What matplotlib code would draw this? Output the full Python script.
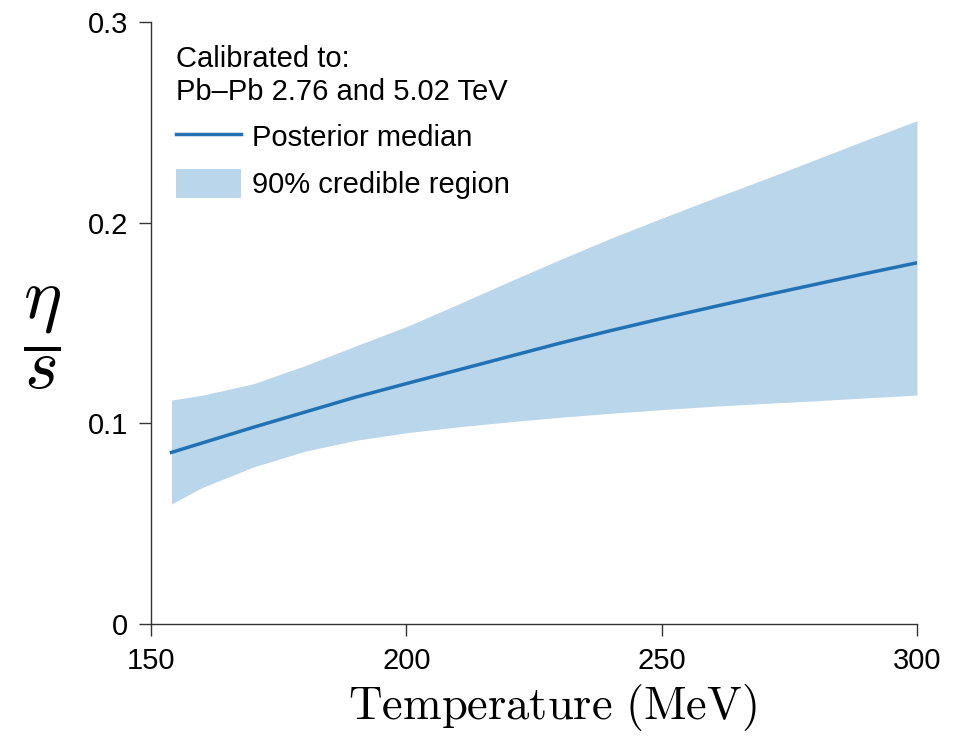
import matplotlib
matplotlib.use("Agg")
import matplotlib.pyplot as plt
from matplotlib.ticker import FixedLocator, FixedFormatter

temperature = [154, 160, 170, 180, 190, 200, 210, 220, 230, 240, 250, 260, 270, 280, 290, 300]
median = [0.0855, 0.0902, 0.0980, 0.1055, 0.1130, 0.1198, 0.1265, 0.1332, 0.1399, 0.1462,
          0.1522, 0.1580, 0.1637, 0.1692, 0.1747, 0.1800]
upper = [0.1116, 0.1140, 0.1197, 0.1286, 0.1385, 0.1482, 0.1592, 0.1705, 0.1815, 0.1922,
         0.2022, 0.2120, 0.2215, 0.2313, 0.2412, 0.2508]
lower = [0.0598, 0.0680, 0.0782, 0.0860, 0.0915, 0.0953, 0.0982, 0.1007, 0.1030, 0.1050,
         0.1068, 0.1085, 0.1099, 0.1112, 0.1127, 0.1141]

xticks = [150, 200, 250, 300]
yticks = [0, 0.1, 0.2, 0.3]
ytick_labels = ["0", "0.1", "0.2", "0.3"]

plt.rcParams['font.family'] = ['Liberation Sans', 'DejaVu Sans']
plt.rcParams['mathtext.fontset'] = 'cm'

fig = plt.figure(figsize=(9.69, 7.36), dpi=100)
ax = fig.add_axes([151/969, 1 - 624/736, (917-151)/969, (624-22)/736])

band_color = '#bad6eb'
line_color = '#2171b5'

ax.fill_between(temperature, lower, upper, color=band_color, lw=0, label='90% credible region')
ax.plot(temperature, median, color=line_color, lw=2.5, label='Posterior median')

ax.set_xlim(150, 300)
ax.set_ylim(0, 0.3)
ax.xaxis.set_major_locator(FixedLocator(xticks))
ax.yaxis.set_major_locator(FixedLocator(yticks))
ax.yaxis.set_major_formatter(FixedFormatter(ytick_labels))

for s in ['top', 'right']:
    ax.spines[s].set_visible(False)
for s in ['left', 'bottom']:
    ax.spines[s].set_color('#333333')
    ax.spines[s].set_linewidth(1.0)

ax.tick_params(direction='out', length=8.5, width=1.0, color='#333333',
               labelsize=21, pad=8)

ax.set_xlabel(r'$\mathrm{Temperature\ (MeV)}$', fontsize=33.5)
ax.xaxis.set_label_coords(0.524, -0.097)
ax.xaxis.label.set_va('top')
ax.set_ylabel(r'$\dfrac{\eta}{s}$', fontsize=52, rotation=0, va='center')
ax.yaxis.set_label_coords(-0.142, 0.475)

handles, labels = ax.get_legend_handles_labels()
leg = ax.legend(handles[::-1], labels[::-1], loc='upper left', bbox_to_anchor=(-0.001, 1.005),
                frameon=False, fontsize=21, title='Calibrated to:\nPb–Pb 2.76 and 5.02 TeV',
                title_fontsize=21, alignment='left', handlelength=2.2, handleheight=1.2,
                handletextpad=0.4, labelspacing=0.55)

fig.savefig('out.png', dpi=100)
